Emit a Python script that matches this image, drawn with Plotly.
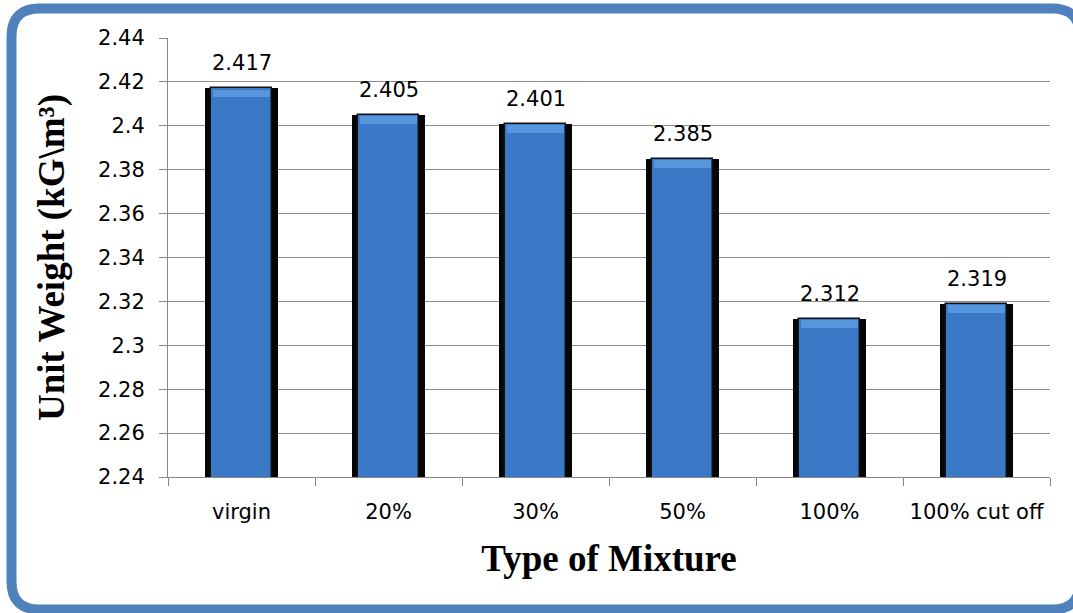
import plotly.graph_objects as go

categories = ["virgin", "20%", "30%", "50%", "100%", "100% cut off"]
unit_weight = [2.417, 2.405, 2.401, 2.385, 2.312, 2.319]
value_labels = ["2.417", "2.405", "2.401", "2.385", "2.312", "2.319"]
y_ticks = [2.24, 2.26, 2.28, 2.30, 2.32, 2.34, 2.36, 2.38, 2.40, 2.42, 2.44]
y_tick_text = ["2.24", "2.26", "2.28", "2.3", "2.32", "2.34", "2.36", "2.38", "2.4", "2.42", "2.44"]

W, H = 1073, 613
ML, MR, MT, MB = 168, 23, 38, 136
label_font = dict(family="DejaVu Sans, sans-serif", size=21, color="#000000")
title_font = dict(family="Liberation Serif, Times New Roman, serif", size=37, color="#000000")

fig = go.Figure()

# dark side shadow behind each bar
fig.add_trace(go.Bar(x=categories, y=unit_weight, width=0.5,
                     marker=dict(color="#050505", line=dict(width=0)),
                     hoverinfo="skip", showlegend=False))
# main blue body with a thin dark rim
fig.add_trace(go.Bar(x=categories, y=unit_weight, width=0.41,
                     marker=dict(color="#3A79C6", line=dict(width=1.5, color="#111111")),
                     showlegend=False))
# light bevel along the top edge
bevel = 0.0036
fig.add_trace(go.Bar(x=categories, y=[bevel] * len(unit_weight),
                     base=[v - bevel - 0.0005 for v in unit_weight], width=0.39,
                     marker=dict(color="#5795DC", line=dict(width=0)),
                     hoverinfo="skip", showlegend=False))

for c, v, t in zip(categories, unit_weight, value_labels):
    fig.add_annotation(x=c, y=v, text=t, showarrow=False, yanchor="bottom",
                       yshift=11, font=label_font)

# rounded frame around the whole chart (pixel geometry converted to paper units)
pw, ph = W - ML - MR, H - MT - MB
def px(x):
    return (x - ML) / pw
def py(y):
    return (H - MB - y) / ph

x0, x1, y0, y1, r = 11.5, 1080, 8.5, 609.5, 28
path = (f"M {px(x0 + r)} {py(y0)} L {px(x1 - r)} {py(y0)} "
        f"Q {px(x1)} {py(y0)} {px(x1)} {py(y0 + r)} "
        f"L {px(x1)} {py(y1 - r)} Q {px(x1)} {py(y1)} {px(x1 - r)} {py(y1)} "
        f"L {px(x0 + r)} {py(y1)} Q {px(x0)} {py(y1)} {px(x0)} {py(y1 - r)} "
        f"L {px(x0)} {py(y0 + r)} Q {px(x0)} {py(y0)} {px(x0 + r)} {py(y0)} Z")
fig.add_shape(type="path", path=path, xref="paper", yref="paper",
              line=dict(color="#4F81BD", width=10), layer="below")

fig.update_layout(
    width=W, height=H,
    margin=dict(l=ML, r=MR, t=MT, b=MB),
    paper_bgcolor="#FFFFFF", plot_bgcolor="#FFFFFF",
    barmode="overlay", bargap=0,
    showlegend=False,
    xaxis=dict(
        type="category", tickson="boundaries", ticks="outside", ticklen=8,
        tickcolor="#888888", showline=True, linecolor="#888888", linewidth=1,
        showgrid=False, tickfont=label_font, ticklabelstandoff=16,
        title=dict(text="<b>Type of Mixture</b>", font=title_font, standoff=21),
    ),
    yaxis=dict(
        range=[2.24, 2.44], tickvals=y_ticks, ticktext=y_tick_text,
        ticks="outside", ticklen=8, tickcolor="#888888",
        showline=True, linecolor="#888888", linewidth=1,
        showgrid=True, gridcolor="#8C8C8C", gridwidth=1,
        zeroline=False, tickfont=label_font, ticklabelstandoff=10,
        title=dict(text="<b>Unit Weight (kG\\m³)</b>", font=title_font, standoff=22),
    ),
)

fig.write_html("out.html")
